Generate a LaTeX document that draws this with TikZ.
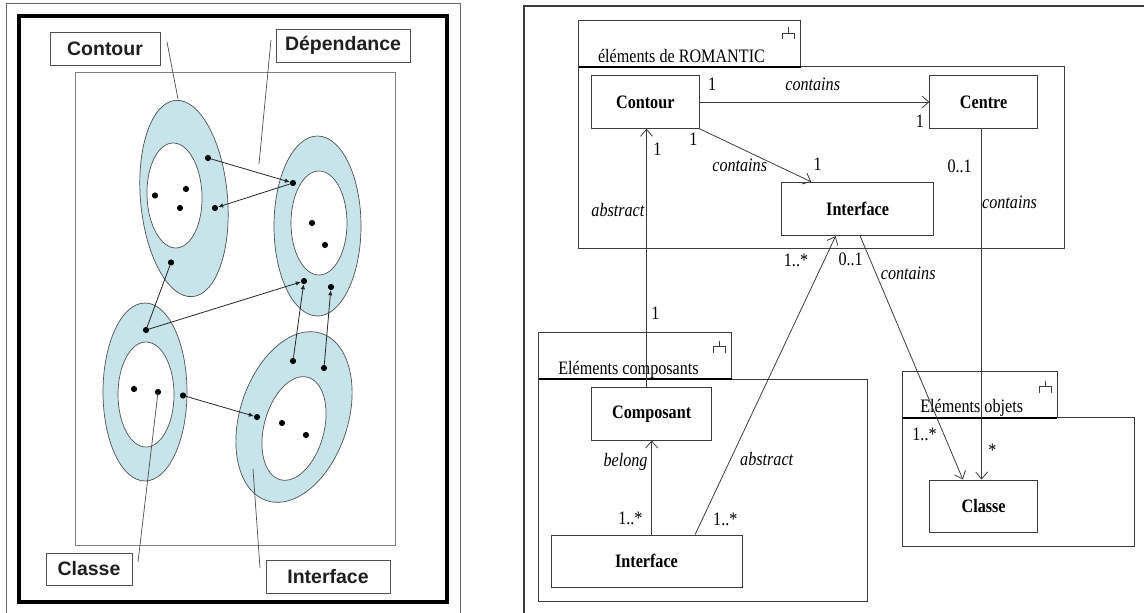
\documentclass[tikz,border=0pt]{standalone}
\usepackage{fontspec}
\setmainfont{Liberation Serif}
\newfontfamily\lblfont{Liberation Sans}
\newfontfamily\umlfont{Liberation Serif}[FakeStretch=0.85]
\usetikzlibrary{arrows.meta,shapes.geometric,calc}

\definecolor{ringblue}{RGB}{198,228,233}
\definecolor{edge}{RGB}{80,80,80}
\definecolor{umlline}{RGB}{60,60,60}

\tikzset{
  % left figure
  tag/.style={draw=edge, line width=0.8pt, fill=white, inner sep=0pt,
    minimum height=33pt, text=black!88,
    font=\lblfont\bfseries\fontsize{19.5pt}{22pt}\selectfont},
  ring/.style={ellipse, draw=edge, line width=0.7pt, fill=ringblue, inner sep=0pt},
  hole/.style={ellipse, draw=edge, line width=0.7pt, fill=white, inner sep=0pt},
  blob/.style={circle, fill=black, inner sep=0pt, minimum size=6.2pt},
  dep/.style={draw=black!85, line width=0.8pt, -{Latex[length=5pt,width=4.5pt]}},
  link/.style={draw=black!85, line width=0.8pt},
  lead/.style={draw=black!70, line width=0.7pt},
  % right figure
  cls/.style={draw=umlline, line width=0.9pt, fill=white, inner sep=0pt,
    font=\umlfont\bfseries\fontsize{19pt}{22pt}\selectfont},
  pkg/.style={draw=umlline, line width=0.9pt},
  pkgbar/.style={draw=black, line width=1.6pt},
  assoc/.style={draw=umlline, line width=0.8pt, -{Straight Barb[length=7pt,width=12pt]}},
  lbl/.style={inner sep=0pt, anchor=base, font=\umlfont\fontsize{19pt}{22pt}\selectfont},
  ital/.style={lbl, font=\umlfont\itshape\fontsize{19pt}{22pt}\selectfont},
  pics/pkgicon/.style={code={
    \draw[draw=umlline, line width=0.9pt] (0,-6) -- (0,0) (-6,6) -- (-6,0) -- (6,0) -- (6,6);}}
}

\begin{document}
\begin{tikzpicture}[x=1pt,y=-1pt]
\useasboundingbox (0,0) rectangle (1144,613);

% ---------------- left figure: frames ----------------
\draw[draw=black!60, line width=0.8pt] (6,614) -- (6,3) -- (460,3) -- (460,614);
\draw[draw=black, line width=4pt] (19,16) rectangle (447,602);
\draw[draw=black!50, line width=0.9pt] (75,72) rectangle (395,545);

% ---------------- left figure: components ----------------
\node[ring, minimum width=87pt, minimum height=197pt, rotate=5] (E1) at (184,198.5) {};
\node[hole, minimum width=55pt, minimum height=105pt, rotate=2] (H1) at (174.5,195.5) {};
\node[ring, minimum width=87pt, minimum height=180pt] (E2) at (317.5,226) {};
\node[hole, minimum width=56pt, minimum height=104pt] (H2) at (319,223) {};
\node[ring, minimum width=84pt, minimum height=178pt] (E3) at (145,392) {};
\node[hole, minimum width=56pt, minimum height=105pt] (H3) at (146,394.5) {};
\node[ring, minimum width=108pt, minimum height=176pt, rotate=-18] (E4) at (294,417) {};
\node[hole, minimum width=60pt, minimum height=106pt, rotate=-15] (H4) at (294,428.5) {};

% dots
\node[blob] (a1) at (208,158) {};
\node[blob] (a2) at (155,195.5) {};
\node[blob] (a3) at (186,189) {};
\node[blob] (a4) at (180,208) {};
\node[blob] (a5) at (215,208) {};
\node[blob] (a6) at (171,262.5) {};
\node[blob] (b1) at (293,183) {};
\node[blob] (b2) at (312,223) {};
\node[blob] (b3) at (325,245) {};
\node[blob] (b4) at (304,281) {};
\node[blob] (b5) at (331,287) {};
\node[blob] (c1) at (146,330) {};
\node[blob] (c2) at (134,389) {};
\node[blob] (c3) at (158,392) {};
\node[blob] (c4) at (183,395.5) {};
\node[blob] (e1) at (293,361) {};
\node[blob] (e2) at (324,368) {};
\node[blob] (e3) at (257,417) {};
\node[blob] (e4) at (282,423) {};
\node[blob] (e5) at (306,435) {};

% dependencies
\draw[dep] (a1) -- (b1);
\draw[dep] (b1) -- (a5);
\draw[link] (a6) -- (c1);
\draw[dep] (c1) -- (b4);
\draw[dep] (e1) -- (b4);
\draw[dep] (e2) -- (b5);
\draw[dep] (c4) -- (e3);

% labels and leader lines
\node[tag, minimum width=110pt] (tContour) at (105,48.5) {Contour};
\node[tag, minimum width=134pt] (tDep) at (343,45.5) {Dépendance};
\node[tag, minimum width=86pt, minimum height=32pt] (tClasse) at (89,569) {Classe};
\node[tag, minimum width=124pt] (tIface) at (328,576.5) {Interface};

\coordinate (pContour) at (167,42);
\coordinate (qContour) at (178,99);
\coordinate (pDep) at (271,40);
\coordinate (qDep) at (259,164);
\coordinate (pClasse) at (138,562);
\coordinate (pIface) at (260,568);
\coordinate (qIface) at (253,469);
\draw[lead] (pContour) -- (qContour);
\draw[lead] (pDep) -- (qDep);
\draw[lead] (pClasse) -- (c3.center);
\draw[lead] (pIface) -- (qIface);

% ---------------- right figure: frame ----------------
\draw[draw=umlline, line width=1.2pt] (524,614) -- (524,6) -- (1145,6);

% packages
\draw[pkg] (578.9,20.7) rectangle (800.5,66.7);
\draw[pkg] (578.9,66.7) rectangle (1064,248.3);
\draw[pkgbar] (578.9,66.7) -- (800.5,66.7);
\pic at (788.6,33.3) {pkgicon};
\node[lbl] (pkgRomantic) at (681.5,62) {éléments de ROMANTIC};

\draw[pkg] (538.7,332.7) rectangle (731.7,379);
\draw[pkg] (538.7,379) rectangle (867,601.7);
\draw[pkgbar] (538.7,379) -- (731.7,379);
\pic at (719,346.7) {pkgicon};
\node[lbl] (pkgComp) at (628.5,374) {Eléments composants};

\draw[pkg] (902.8,371.7) rectangle (1057.2,417.7);
\draw[pkg] (902.8,417.7) rectangle (1134,546.7);
\draw[pkgbar] (902.8,417.7) -- (1057.2,417.7);
\pic at (1045.3,386.7) {pkgicon};
\node[lbl] (pkgObj) at (971.7,412.7) {Eléments objets};

% classes
\node[cls, minimum width=107.4pt, minimum height=52.6pt] (contour) at (645.3,102) {Contour};
\node[cls, minimum width=107.4pt, minimum height=52.6pt] (centre) at (983.6,102) {Centre};
\node[cls, minimum width=152.4pt, minimum height=53.4pt] (ifaceU) at (857.6,209) {Interface};
\node[cls, minimum width=120.2pt, minimum height=52.3pt] (composant) at (651.7,413.85) {Composant};
\node[cls, minimum width=191pt, minimum height=52.3pt] (ifaceL) at (646.5,561.15) {Interface};
\node[cls, minimum width=107.4pt, minimum height=52.7pt] (classe) at (983.6,506.35) {Classe};

% associations
\coordinate (absX) at (646.5,0);
\coordinate (ctrX) at (981.6,0);
\draw[assoc] (contour.east) -- (centre.west);
\draw[assoc] (contour.south east) -- ([xshift=30.3pt]ifaceU.north west);
\draw[assoc] (absX |- composant.north) -- (absX |- contour.south);
\draw[assoc] (ctrX |- centre.south) -- (ctrX |- classe.north);
\draw[assoc] ([xshift=2.6pt]ifaceU.south) -- ([xshift=-20.7pt]classe.north);
\draw[assoc] ([xshift=48.6pt]ifaceL.north) -- ([xshift=-22pt]ifaceU.south);
\draw[assoc] (composant.south |- ifaceL.north) -- (composant.south);

% multiplicities and roles
\node[lbl] (m1) at (712.2,90.7) {1};
\node[ital] (r1) at (812.7,90.7) {contains};
\node[lbl] (m2) at (920,127.3) {1};
\node[lbl] (m3) at (693.5,145.7) {1};
\node[ital] (r2) at (739.7,171.7) {contains};
\node[lbl] (m4) at (817.7,170) {1};
\node[lbl] (m5) at (657.3,155) {1};
\node[ital] (r3) at (617.9,216.7) {abstract};
\node[lbl] (m6) at (959.7,172.7) {0..1};
\node[ital] (r4) at (1009.5,208.3) {contains};
\node[lbl] (m7) at (796,266.7) {1..*};
\node[lbl] (m8) at (850.7,265) {0..1};
\node[ital] (r5) at (908.2,279.3) {contains};
\node[lbl] (m9) at (655.3,319) {1};
\node[ital] (r6) at (625.5,466.7) {belong};
\node[lbl] (m10) at (630.4,524) {1..*};
\node[ital] (r7) at (766.7,465) {abstract};
\node[lbl] (m11) at (725.3,525) {1..*};
\node[lbl] (m12) at (924.5,440.7) {1..*};
\node[lbl] (m13) at (992.3,456) {*};

\end{tikzpicture}
\end{document}
